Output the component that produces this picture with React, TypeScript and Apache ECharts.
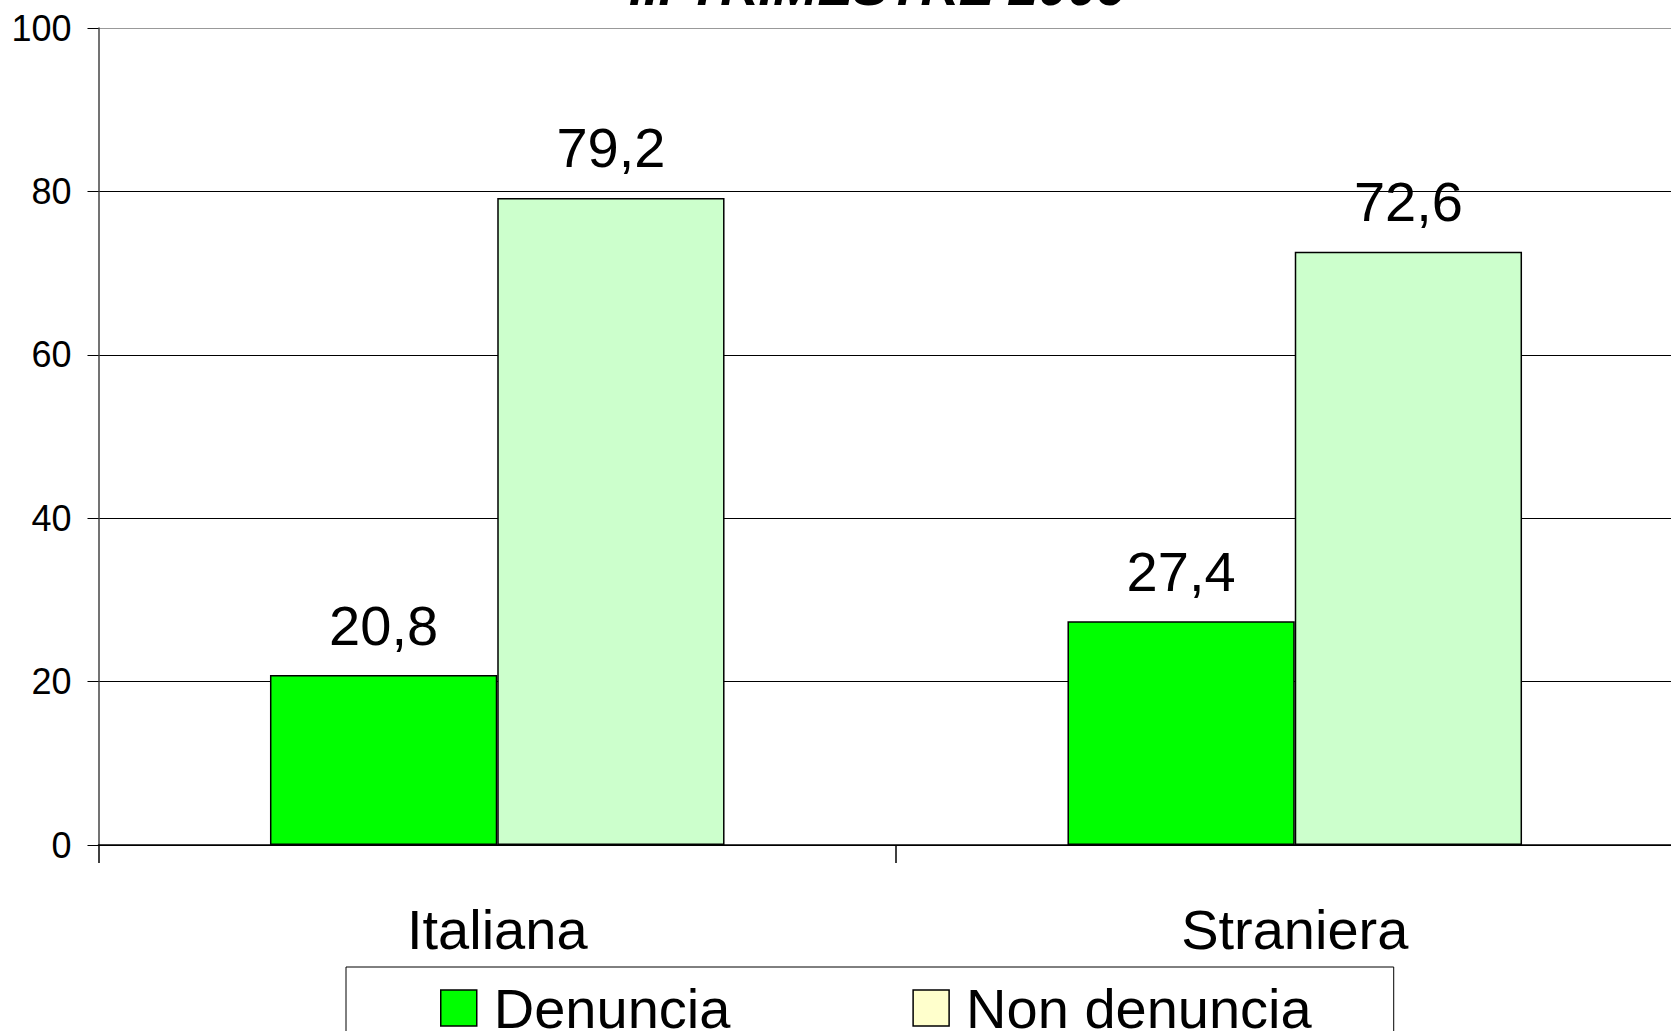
import React, { useEffect, useRef } from "react";
import * as echarts from "echarts";

const categories = ["Italiana", "Straniera"];
const denuncia = [20.8, 27.4];
const nonDenuncia = [79.2, 72.6];
const seriesNames = ["Denuncia", "Non denuncia"];
const titleText = "III TRIMESTRE 2009";

const FONT = "'Liberation Sans', Arial, Helvetica, sans-serif";

export default function App() {
  const ref = useRef<HTMLDivElement>(null);
  useEffect(() => {
    if (!ref.current) return;
    const chart = echarts.init(ref.current, undefined, { renderer: "svg" });
    const fmt = (p: any) => String(p.value).replace(".", ",");
    chart.setOption({
      animation: false,
      backgroundColor: "#ffffff",
      textStyle: { fontFamily: FONT },
      title: {
        text: titleText,
        left: 629,
        top: -40,
        padding: 0,
        textStyle: {
          fontFamily: FONT,
          fontSize: 53,
          fontWeight: "bold",
          fontStyle: "italic",
          color: "#000",
        },
      },
      grid: { left: 98.5, top: 28, width: 1595, bottom: 186, containLabel: false },
      legend: {
        left: 346,
        top: 967,
        padding: [13, 82, 20, 94],
        itemGap: 182,
        itemWidth: 36,
        itemHeight: 36,
        borderColor: "#000",
        borderWidth: 1,
        backgroundColor: "#fff",
        icon: "rect",
        textStyle: {
          fontFamily: FONT,
          fontSize: 56,
          color: "#000",
          padding: [0, 0, 0, 12],
        },
        data: [
          { name: seriesNames[0], itemStyle: { color: "#00FF00", borderColor: "#000", borderWidth: 1.5 } },
          { name: seriesNames[1], itemStyle: { color: "#FFFFCC", borderColor: "#000", borderWidth: 1.5 } },
        ],
      },
      xAxis: {
        type: "category",
        data: categories,
        axisLine: { lineStyle: { color: "#000", width: 1.5 } },
        axisTick: { show: true, length: 18, lineStyle: { color: "#000", width: 1.5 } },
        axisLabel: { fontFamily: FONT, fontSize: 56, color: "#000", margin: 56 },
      },
      yAxis: {
        type: "value",
        min: 0,
        max: 100,
        interval: 20,
        axisLine: { show: true, lineStyle: { color: "#444", width: 1.5 } },
        axisTick: { show: true, length: 11, lineStyle: { color: "#000", width: 1 } },
        axisLabel: { fontFamily: FONT, fontSize: 36, color: "#000", margin: 27 },
        splitLine: {
          show: true,
          lineStyle: { color: ["#000", "#000", "#000", "#000", "#000", "#999"], width: 1.2 },
        },
      },
      series: [
        {
          name: seriesNames[0],
          type: "bar",
          data: denuncia,
          barGap: "0%",
          barCategoryGap: "43%",
          itemStyle: { color: "#00FF00", borderColor: "#000", borderWidth: 1.5 },
          label: {
            show: true,
            position: "top",
            distance: 22,
            fontFamily: FONT,
            fontSize: 56,
            color: "#000",
            formatter: fmt,
          },
        },
        {
          name: seriesNames[1],
          type: "bar",
          data: nonDenuncia,
          barGap: "0%",
          barCategoryGap: "43%",
          itemStyle: { color: "#CCFFCC", borderColor: "#000", borderWidth: 1.5 },
          label: {
            show: true,
            position: "top",
            distance: 22,
            fontFamily: FONT,
            fontSize: 56,
            color: "#000",
            formatter: fmt,
          },
        },
      ],
    });
    return () => chart.dispose();
  }, []);
  return (
    <div
      style={{
        position: "fixed",
        left: 0,
        top: 0,
        width: 1671,
        height: 1031,
        overflow: "hidden",
        background: "#fff",
      }}
    >
      <div ref={ref} style={{ position: "absolute", left: 0, top: 0, width: 1720, height: 1031 }} />
    </div>
  );
}
